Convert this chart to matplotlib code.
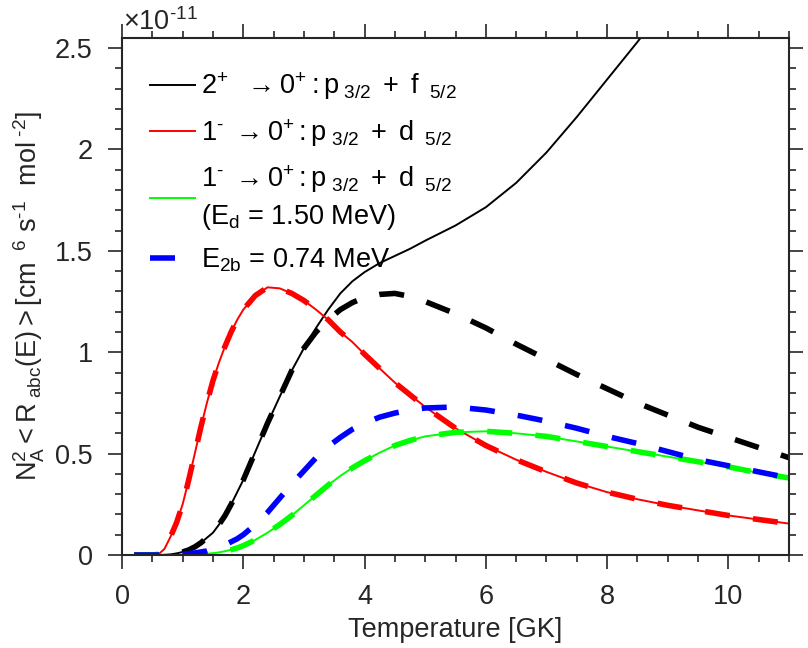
import matplotlib
matplotlib.use("Agg")
import matplotlib.pyplot as plt

plt.rcParams['font.family'] = ['Liberation Sans', 'DejaVu Sans']
plt.rcParams['mathtext.fontset'] = 'custom'
plt.rcParams['mathtext.rm'] = 'Liberation Sans'
plt.rcParams['mathtext.it'] = 'Liberation Sans:italic'
plt.rcParams['mathtext.bf'] = 'Liberation Sans:bold'

# temperature grid [GK]
T = [0.2, 0.5, 0.6, 0.7, 0.8, 0.9, 1.0, 1.1, 1.2, 1.3, 1.4, 1.5, 1.6, 1.7, 1.8,
     1.9, 2.0, 2.2, 2.4, 2.6, 2.8, 3.0, 3.2, 3.4, 3.6, 3.8, 4.0, 4.25, 4.5, 4.75,
     5.0, 5.5, 6.0, 6.5, 7.0, 7.5, 8.0, 8.5, 9.0, 9.5, 10.0, 10.5, 11.0]

# rates in units of 1e-11
black_solid = [0, 0, 0, 0.001, 0.003, 0.008, 0.015, 0.025, 0.04, 0.06, 0.085,
               0.11, 0.15, 0.195, 0.25, 0.31, 0.37, 0.51, 0.65, 0.78, 0.91, 1.02,
               1.12, 1.21, 1.29, 1.35, 1.395, 1.44, 1.475, 1.51, 1.55, 1.625,
               1.715, 1.835, 1.985, 2.16, 2.345, 2.53, 2.72, 2.9, 3.1, 3.3, 3.5]
black_dash = [0, 0, 0, 0.001, 0.003, 0.008, 0.015, 0.025, 0.04, 0.06, 0.085,
              0.11, 0.15, 0.195, 0.25, 0.31, 0.37, 0.51, 0.65, 0.78, 0.91, 1.02,
              1.10, 1.16, 1.21, 1.245, 1.27, 1.285, 1.29, 1.275, 1.25, 1.19, 1.12,
              1.04, 0.965, 0.89, 0.82, 0.75, 0.69, 0.63, 0.58, 0.53, 0.48]
red = [0, 0, 0.003, 0.03, 0.09, 0.16, 0.25, 0.37, 0.50, 0.63, 0.75, 0.86, 0.95,
       1.03, 1.10, 1.16, 1.21, 1.28, 1.32, 1.315, 1.29, 1.255, 1.21, 1.16, 1.10,
       1.05, 0.99, 0.92, 0.85, 0.79, 0.73, 0.625, 0.54, 0.47, 0.41, 0.355, 0.31,
       0.275, 0.245, 0.22, 0.195, 0.175, 0.155]
green = [0, 0, 0, 0, 0, 0, 0, 0.001, 0.002, 0.004, 0.006, 0.009, 0.013, 0.019,
         0.026, 0.035, 0.046, 0.075, 0.11, 0.15, 0.195, 0.245, 0.295, 0.345,
         0.39, 0.43, 0.465, 0.505, 0.54, 0.565, 0.585, 0.605, 0.61, 0.60, 0.585,
         0.56, 0.535, 0.51, 0.485, 0.46, 0.435, 0.405, 0.38]
blue = [0, 0, 0, 0, 0, 0.001, 0.003, 0.006, 0.01, 0.015, 0.02, 0.03, 0.04, 0.05,
        0.065, 0.08, 0.10, 0.15, 0.21, 0.28, 0.35, 0.415, 0.48, 0.535, 0.58, 0.62,
        0.65, 0.68, 0.70, 0.715, 0.725, 0.73, 0.715, 0.69, 0.66, 0.625, 0.585,
        0.55, 0.51, 0.47, 0.44, 0.41, 0.38]

labels = [
    r'$\mathregular{2^{+}\ \ \rightarrow 0^{+}: p_{\ 3/2}\ +\ f_{\ \ 5/2}}$',
    r'$\mathregular{1^{\text{-}}\ \rightarrow 0^{+}: p_{\ 3/2}\ +\ d_{\ \ 5/2}}$',
    r'$\mathregular{1^{\text{-}}\ \rightarrow 0^{+}: p_{\ 3/2}\ +\ d_{\ \ 5/2}}$' + '\n'
    + r'($\mathregular{E_d}$ = 1.50 MeV)',
    r'$\mathregular{E_{2b}}$ = 0.74 MeV',
]

fs = 19.5
fig = plt.figure(figsize=(8.08, 6.48), dpi=100)
ax = fig.add_axes([0.151, 0.1435, 0.8255, 0.798])

dash = (0, (4.5, 4.2))
l1, = ax.plot(T, black_solid, color='black', lw=1.4)
l2, = ax.plot(T, red, color='red', lw=1.4)
l3, = ax.plot(T, green, color='#00ff00', lw=1.4)
ax.plot(T, black_dash, color='black', lw=4, ls=dash)
ax.plot(T, red, color='red', lw=4, ls=dash)
ax.plot(T, green, color='#00ff00', lw=4, ls=dash)
l4, = ax.plot(T, blue, color='blue', lw=4, ls=dash)

ax.set_xlim(0, 11)
ax.set_ylim(0, 2.55)
ax.set_xticks([0, 2, 4, 6, 8, 10])
ax.set_xticks([i * 0.5 for i in range(23)], minor=True)
ax.set_yticks([0, 0.5, 1, 1.5, 2, 2.5])
ax.set_yticklabels(['0', '0.5', '1', '1.5', '2', '2.5'])
ax.set_yticks([i * 0.1 for i in range(26)], minor=True)

axcol = '#262626'
for s in ax.spines.values():
    s.set_linewidth(1.5)
    s.set_color(axcol)
ax.tick_params(which='both', direction='out', top=True, right=True,
               color=axcol, labelcolor=axcol, labelsize=fs, width=1.2, pad=11)
ax.tick_params(which='major', length=10)
ax.tick_params(which='minor', length=5)

ax.set_xlabel('Temperature [GK]', fontsize=fs, color=axcol, labelpad=5)
ax.set_ylabel(r'$\mathregular{N_A^2 <R_{\ abc}(E)> [cm^{\ \ 6}\ s^{\text{-}1}\ \ mol^{\ \text{-}2}]}$',
              fontsize=fs, color=axcol, labelpad=6)

fig.text(123 / 808, 1 - 30 / 648, r'$\mathregular{\times10^{\text{-}11}}$',
         fontsize=fs, color=axcol, ha='left', va='baseline')

leg = ax.legend([l1, l2, l3, l4], labels, loc='upper left',
                bbox_to_anchor=(0.042, 0.937), frameon=False, fontsize=fs,
                handlelength=1.65, handletextpad=0.25, labelspacing=0.55,
                borderaxespad=0, borderpad=0)
for t in leg.get_texts():
    t.set_linespacing(1.3)

fig.savefig('out.png', dpi=100)
